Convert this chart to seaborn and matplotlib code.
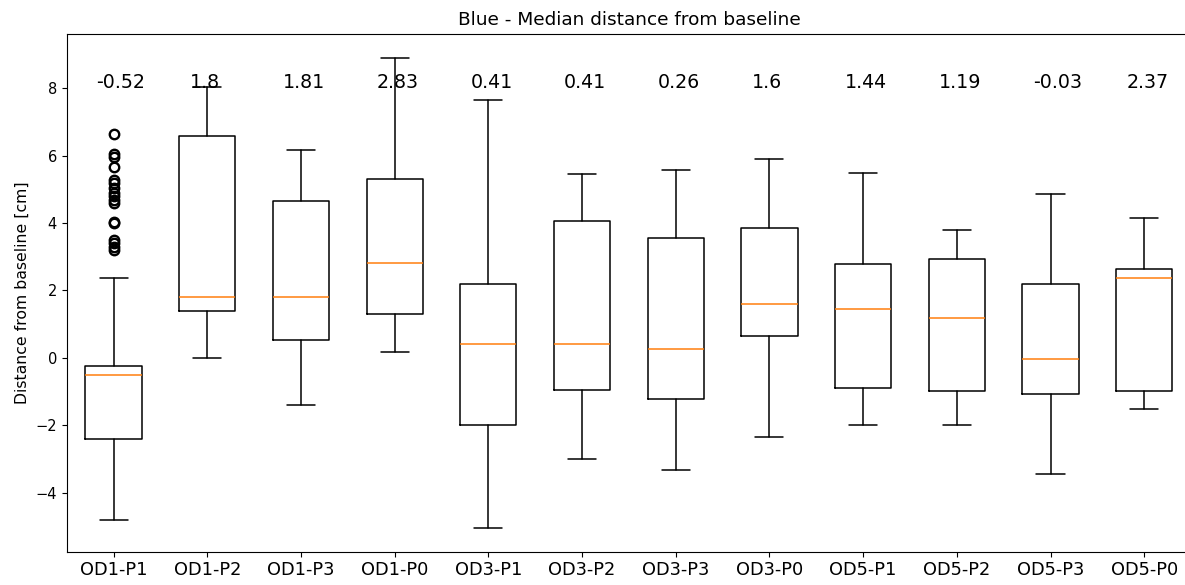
import matplotlib
matplotlib.use("Agg")
from matplotlib import pyplot as plt
import seaborn as sns

# box statistics (cm)
groups = ['OD1-P1', 'OD1-P2', 'OD1-P3', 'OD1-P0',
          'OD3-P1', 'OD3-P2', 'OD3-P3', 'OD3-P0',
          'OD5-P1', 'OD5-P2', 'OD5-P3', 'OD5-P0']
medians = [-0.52, 1.8, 1.81, 2.83, 0.41, 0.41, 0.26, 1.6, 1.44, 1.19, -0.03, 2.37]
q1 = [-2.42, 1.39, 0.52, 1.30, -1.99, -0.95, -1.22, 0.66, -0.90, -0.99, -1.07, -0.99]
q3 = [-0.25, 6.57, 4.65, 5.30, 2.19, 4.06, 3.55, 3.85, 2.79, 2.93, 2.19, 2.63]
whis_low = [-4.81, 0.0, -1.39, 0.17, -5.04, -2.99, -3.32, -2.34, -1.99, -1.99, -3.44, -1.51]
whis_high = [2.36, 8.05, 6.16, 8.89, 7.64, 5.45, 5.57, 5.91, 5.50, 3.79, 4.86, 4.15]
outliers_od1_p1 = [6.64, 6.04, 5.97, 5.65, 5.28, 5.18, 5.04, 4.89, 4.79, 4.69,
                   4.59, 4.03, 4.00, 3.50, 3.40, 3.30, 3.20]
median_labels = ['-0.52', '1.8', '1.81', '2.83', '0.41', '0.41', '0.26', '1.6',
                 '1.44', '1.19', '-0.03', '2.37']

sns.set_style('ticks', rc={
    'axes.edgecolor': 'black',
    'axes.linewidth': 0.9,
    'xtick.color': 'black',
    'ytick.color': 'black',
    'text.color': 'black',
    'axes.labelcolor': 'black',
    'xtick.major.size': 3.85,
    'ytick.major.size': 3.85,
    'xtick.major.width': 0.9,
    'ytick.major.width': 0.9,
})
plt.rcParams['font.family'] = ['DejaVu Sans']

stats = []
for i, name in enumerate(groups):
    stats.append({
        'label': name,
        'med': medians[i],
        'q1': q1[i],
        'q3': q3[i],
        'whislo': whis_low[i],
        'whishi': whis_high[i],
        'fliers': outliers_od1_p1 if i == 0 else [],
    })

fig = plt.figure(figsize=(11.85, 5.85), dpi=100)
ax = fig.add_axes([0.0563, 0.0569, 0.9488, 0.8844])

line = {'color': 'black', 'linewidth': 1.1}
ax.bxp(stats, positions=range(1, len(groups) + 1), widths=0.6,
       boxprops=line, whiskerprops=line, capprops=line,
       medianprops={'color': '#ff7f0e', 'linewidth': 1.1},
       flierprops={'marker': 'o', 'markerfacecolor': 'none',
                   'markeredgecolor': 'black', 'markersize': 6.8,
                   'markeredgewidth': 1.7})

for i, txt in enumerate(median_labels):
    ax.text(i + 1 - 0.19, 8, txt, fontsize=13.7)

ax.set_xlim(0.5, 12.5)
ax.set_ylim(-5.75, 9.6)
ax.set_yticks([-4, -2, 0, 2, 4, 6, 8])
ax.tick_params(axis='x', labelsize=12.8)
ax.tick_params(axis='y', labelsize=10.5)
ax.set_ylabel('Distance from baseline [cm]', fontsize=11.3)
ax.set_title('Blue - Median distance from baseline', fontsize=13.3, pad=7)

fig.savefig('out.png', dpi=100)
